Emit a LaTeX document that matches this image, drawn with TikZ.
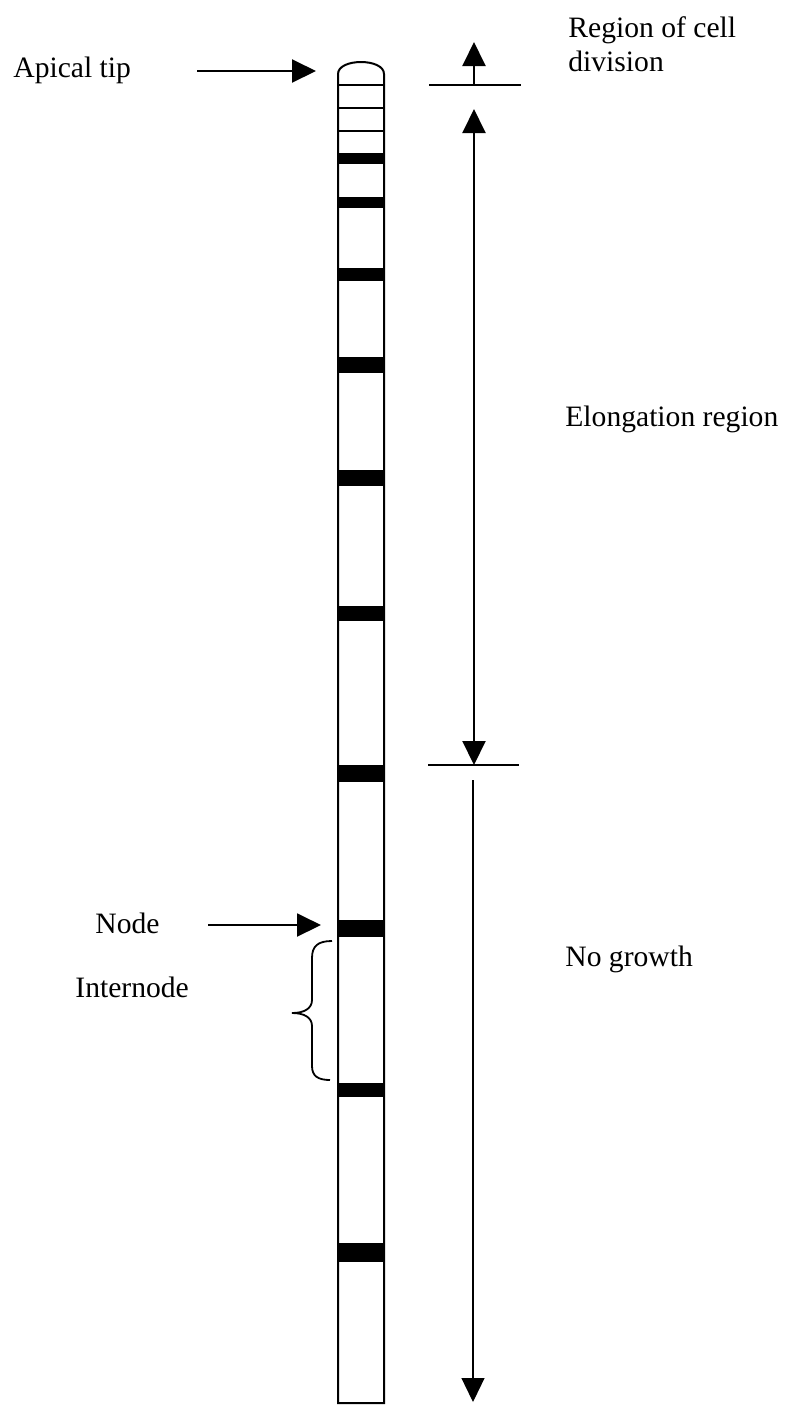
\documentclass[tikz,border=0pt]{standalone}
\usepackage{fontspec}
\setmainfont{Liberation Serif}
\usetikzlibrary{arrows.meta}
\begin{document}
\begin{tikzpicture}[x=0.5pt,y=-0.5pt,
  lbl/.style={anchor=base west,inner sep=0pt,font=\fontsize{14.8}{17.5}\selectfont},
  tip/.style={Triangle[length=12pt,width=11.5pt]},
  ptr/.style={line width=1pt,-{Triangle[length=12pt,width=11.5pt]}},
  dblptr/.style={line width=1pt,{Triangle[length=12pt,width=11.5pt]}-{Triangle[length=12pt,width=11.5pt]}},
  thinptr/.style={line width=0.6pt,-{Triangle[length=12pt,width=11.5pt]}},
  rule/.style={line width=1pt},
  outline/.style={line width=1pt},
  cell/.style={line width=0.9pt}]
\useasboundingbox (0,0) rectangle (799,1405);

% stem with rounded apex
\draw[outline] (338,1403) -- (338,74) .. controls (338,58) and (384,58) .. (384,74) -- (384,1403) -- cycle;

% young cell walls near the tip
\foreach \y in {85,108,131} \draw[cell] (338,\y) -- (384,\y);

% nodes (dark bands)
\foreach \a/\b in {153/164,197/208,268/281,357/373,470/486,606/621,765/782,920/937,1083/1097,1243/1262}
  \fill (337,\a) rectangle (385,\b);

% apical tip label and pointer
\node[lbl] (apical) at (13,77) {Apical tip};
\coordinate (apA) at (197,71);
\coordinate (apB) at (316,71);
\draw[ptr] (apA) -- (apB);

% region of cell division
\node[lbl] (div1) at (568,37) {Region of cell};
\node[lbl] (div2) at (568,71) {division};
\coordinate (divbase) at (474,85);
\coordinate (divtip) at (474,42);
\draw[ptr] (divbase) -- (divtip);
\coordinate (r1a) at (429,85);
\coordinate (r1b) at (521,85);
\draw[rule] (r1a) -- (r1b);

% elongation region
\node[lbl] (elong) at (565,426) {Elongation region};
\coordinate (elTop) at (474,109);
\coordinate (elBot) at (474,765);
\draw[dblptr] (elTop) -- (elBot);
\coordinate (r2a) at (428,765);
\coordinate (r2b) at (519,765);
\draw[rule] (r2a) -- (r2b);

% no growth
\node[lbl] (nogrowth) at (565,966) {No growth};
\coordinate (ngTop) at (473,780);
\coordinate (ngBot) at (473,1402);
\draw[thinptr] (ngTop) -- (ngBot);

% node label and pointer
\node[lbl] (nodelbl) at (95,933) {Node};
\coordinate (ndA) at (208,925);
\coordinate (ndB) at (321,925);
\draw[ptr] (ndA) -- (ndB);

% internode label and brace
\node[lbl] (internode) at (75,997) {Internode};
\draw[cell] (332,941) .. controls (318,941) and (312,946) .. (312,958) -- (312,1000)
  .. controls (312,1008) and (305,1013) .. (292,1013)
  .. controls (305,1013) and (312,1018) .. (312,1026) -- (312,1066)
  .. controls (312,1076) and (318,1080) .. (330,1080);
\end{tikzpicture}
\end{document}
